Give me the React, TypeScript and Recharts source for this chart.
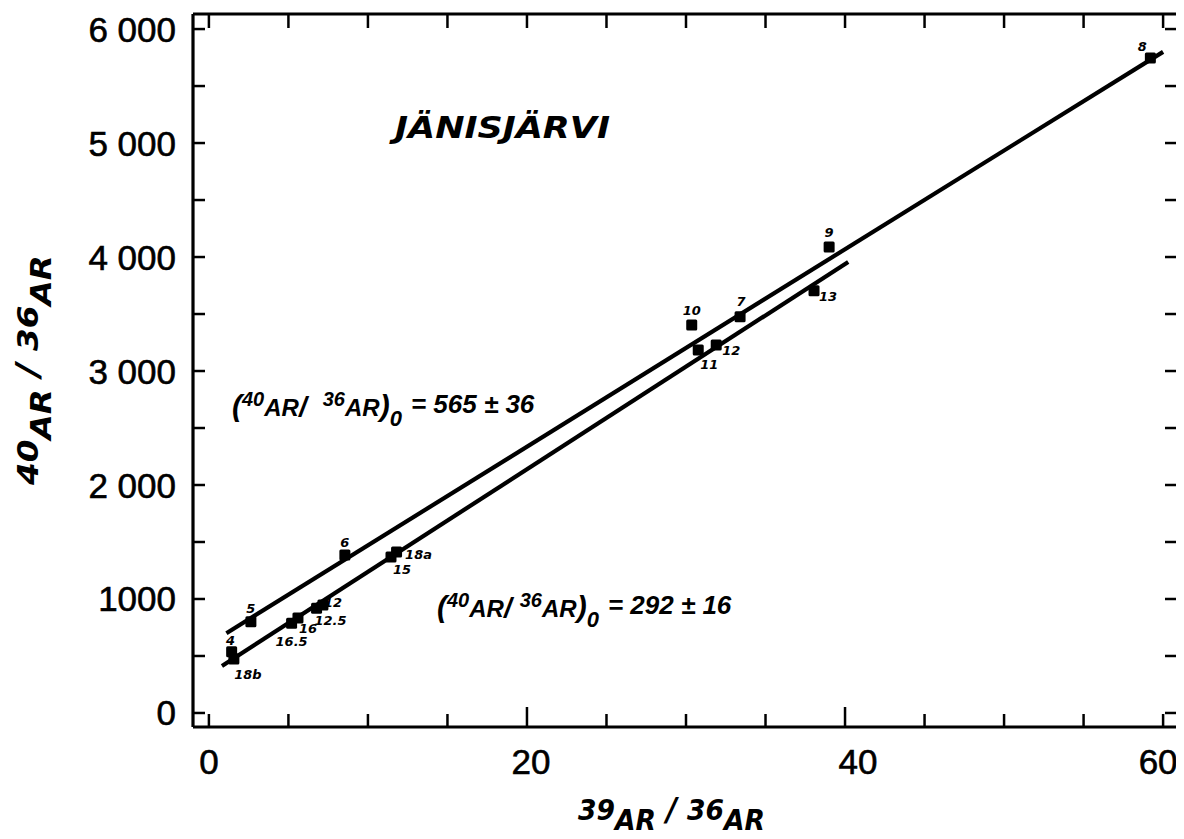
import React from 'react';
import { ScatterChart, Scatter, XAxis, YAxis } from 'recharts';

// ---- data ----
const sampleLabels = ['4', '18b', '5', '16.5', '16', '12.5', '12', '6', '15', '18a', '10', '7', '11', '12', '13', '9', '8'];
const ratio39 = [1.43, 1.57, 2.64, 5.2, 5.6, 6.77, 7.17, 8.55, 11.45, 11.8, 30.36, 33.4, 30.77, 31.9, 38.05, 39.0, 59.2];
const ratio40 = [538, 474, 801, 787, 833, 918, 947, 1386, 1368, 1412, 3404, 3476, 3184, 3228, 3704, 4088, 5746];

const upperLineX = [1.1, 60.0];
const upperLineY = [700, 5800];
const lowerLineX = [0.82, 40.2];
const lowerLineY = [412, 3956];

const xTicks = [0, 5, 10, 15, 20, 25, 30, 35, 40, 45, 50, 55, 60];
const xTickLabels = [0, 20, 40, 60];
const yTicks = [0, 500, 1000, 1500, 2000, 2500, 3000, 3500, 4000, 4500, 5000, 5500, 6000];
const yTickValues = [0, 1000, 2000, 3000, 4000, 5000, 6000];
const yTickTexts = ['0', '1000', '2 000', '3 000', '4 000', '5 000', '6 000'];

// layout-only nudges
const xLabelNudge: Record<number, number> = { 0: 0, 20: 4, 40: 13, 60: -5 };
const labelOffsets: [number, number][] = [
  [-1, -11], [14, 16], [0, -13], [0, 18], [10, 10], [14, 12], [10, -3], [0, -12],
  [11, 12], [22, 2], [0, -14], [1, -15], [11, 14], [15, 5], [14, 6], [0, -14], [-8, -11],
];

const points = sampleLabels.map((label, i) => ({ x: ratio39[i], y: ratio40[i], label, i }));
const upperLine = upperLineX.map((x, i) => ({ x, y: upperLineY[i] }));
const lowerLine = lowerLineX.map((x, i) => ({ x, y: lowerLineY[i] }));

const W = 1176;
const H = 831;
const italicFont = { fontFamily: 'DejaVu Sans', fontWeight: 'bold' as const, fontStyle: 'italic' as const };
const eqFont = { fontFamily: 'Liberation Sans', fontWeight: 'bold' as const, fontStyle: 'italic' as const };
const tickFont = { fontFamily: 'Liberation Sans', fontSize: 35, fill: '#000', stroke: '#000', strokeWidth: 0.6 };

const BottomTick = (props: any) => {
  const { x, y, payload } = props;
  const major = payload.value === 20 || payload.value === 40;
  const labelled = xTickLabels.includes(payload.value);
  return (
    <g>
      <line x1={x} y1={y} x2={x} y2={y - (major ? 20 : 13)} stroke="#000" strokeWidth={2.5} />
      {labelled && (
        <text x={x + (xLabelNudge[payload.value] || 0)} y={y + 34} textAnchor="middle" dominantBaseline="central" {...tickFont}>
          {payload.value}
        </text>
      )}
    </g>
  );
};

const TopTick = (props: any) => {
  const { x, y } = props;
  return <line x1={x} y1={y} x2={x} y2={y + 14} stroke="#000" strokeWidth={2.5} />;
};

const LeftTick = (props: any) => {
  const { x, y, payload } = props;
  const idx = yTickValues.indexOf(payload.value);
  return (
    <g>
      <line x1={x} y1={y} x2={x + 12} y2={y} stroke="#000" strokeWidth={2.5} />
      {idx >= 0 && (
        <text x={x - 17} y={y} textAnchor="end" dominantBaseline="central" {...tickFont}>
          {yTickTexts[idx]}
        </text>
      )}
    </g>
  );
};

const RightTick = (props: any) => {
  const { x, y } = props;
  return <line x1={x} y1={y} x2={x - 14} y2={y} stroke="#000" strokeWidth={2.5} />;
};

const PointShape = (props: any) => {
  const { cx, cy, payload } = props;
  if (cx == null || cy == null) return <g />;
  const [dx, dy] = labelOffsets[payload.i] || [0, -12];
  return (
    <g>
      <rect x={cx - 5.5} y={cy - 5.5} width={11} height={11} rx={1.5} fill="#000" />
      <text x={cx + dx} y={cy + dy} textAnchor="middle" dominantBaseline="central" fontSize={13} fill="#000" {...italicFont}>
        {payload.label}
      </text>
    </g>
  );
};

const NoShape = () => <g />;

const Equation = ({ x, y, value, gap }: { x: number; y: number; value: string; gap: number }) => (
  <text x={x} y={y} fontSize={24} fill="#000" {...eqFont}>
    <tspan fontSize={30}>(</tspan>
    <tspan fontSize={20} dy={-10}>40</tspan>
    <tspan fontSize={24} dy={10}>AR</tspan>
    <tspan fontSize={28}>/</tspan>
    <tspan fontSize={20} dy={-10} dx={gap}>36</tspan>
    <tspan fontSize={24} dy={10}>AR</tspan>
    <tspan fontSize={30}>)</tspan>
    <tspan fontSize={22} dy={10}>0</tspan>
    <tspan fontSize={26} dy={-13} dx={9}>{value}</tspan>
  </text>
);

export default function App() {
  const axisLine = { stroke: '#000', strokeWidth: 3.2 };
  return (
    <div style={{ position: 'relative', width: W, height: H }}>
      <ScatterChart width={W} height={H} margin={{ top: 5, right: 4, bottom: 111, left: 184 }}>
        <XAxis xAxisId="b" type="number" dataKey="x" domain={[-1, 61]} ticks={xTicks} interval={0}
          orientation="bottom" height={1} tickSize={0} tickMargin={0} tickLine={false}
          axisLine={axisLine} tick={<BottomTick />} allowDataOverflow />
        <XAxis xAxisId="t" type="number" dataKey="x" domain={[-1, 61]} ticks={xTicks} interval={0}
          orientation="top" height={1} tickSize={0} tickMargin={0} tickLine={false}
          axisLine={axisLine} tick={<TopTick />} allowDataOverflow />
        <YAxis yAxisId="l" type="number" dataKey="y" domain={[-123, 6132]} ticks={yTicks} interval={0}
          orientation="left" width={1} tickSize={0} tickMargin={0} tickLine={false}
          axisLine={axisLine} tick={<LeftTick />} allowDataOverflow />
        <YAxis yAxisId="r" type="number" dataKey="y" domain={[-123, 6132]} ticks={yTicks} interval={0}
          orientation="right" width={1} tickSize={0} tickMargin={0} tickLine={false}
          axisLine={axisLine} tick={<RightTick />} allowDataOverflow />
        <Scatter xAxisId="b" yAxisId="l" data={upperLine} line={{ stroke: '#000', strokeWidth: 4.2 }}
          lineType="joint" shape={<NoShape />} isAnimationActive={false} />
        <Scatter xAxisId="b" yAxisId="l" data={lowerLine} line={{ stroke: '#000', strokeWidth: 4.2 }}
          lineType="joint" shape={<NoShape />} isAnimationActive={false} />
        <Scatter xAxisId="b" yAxisId="l" data={points} shape={<PointShape />} isAnimationActive={false} />
      </ScatterChart>
      <svg width={W} height={H} style={{ position: 'absolute', left: 0, top: 0, pointerEvents: 'none' }}>
        <Equation x={224} y={408} value="= 565 ± 36" gap={16} />
        <Equation x={429} y={609} value="= 292 ± 16" gap={8} />
        <g fill="#000" {...italicFont}>
          <text x={387} y={130} fontSize={30} textLength={215} lengthAdjust="spacingAndGlyphs">JÄNISJÄRVI</text>

          <text x={570} y={812} fontSize={29} textLength={187} lengthAdjust="spacingAndGlyphs">
            <tspan>39</tspan>
            <tspan dy={10}>AR</tspan>
            <tspan dy={-10} fontSize={32}> / </tspan>
            <tspan>36</tspan>
            <tspan dy={10}>AR</tspan>
          </text>

          <text x={30} y={362} transform="rotate(-90 30 362)" textAnchor="middle" fontSize={29} textLength={230} lengthAdjust="spacingAndGlyphs">
            <tspan>40</tspan>
            <tspan dy={13}>AR</tspan>
            <tspan dy={-13} fontSize={32}> / </tspan>
            <tspan>36</tspan>
            <tspan dy={13}>AR</tspan>
          </text>
        </g>
      </svg>
    </div>
  );
}
